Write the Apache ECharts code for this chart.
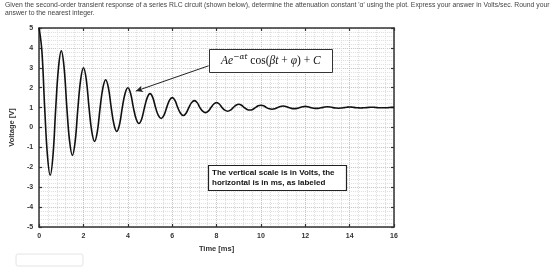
<!DOCTYPE html>
<html>
<head>
<meta charset="utf-8">
<script src="https://cdn.jsdelivr.net/npm/echarts@6/dist/echarts.min.js"></script>
<style>
  html, body { margin: 0; padding: 0; background: #fff; }
  #main { width: 560px; height: 270px; }
</style>
</head>
<body>
<div id="main"></div>
<script>
// time in ms, every eighth of the 1 ms period
const timeMs = [];
for (let i = 0; i <= 128; i++) timeMs.push(i / 8);

// voltage (V)
const voltage = [
  5.0, 3.84, 1, -1.41,   -2.4, -1.41, 1, 3.02,
  3.85, 3.02, 1, -0.70,  -1.4, -0.70, 1, 2.42,
  3.0, 2.42, 1, -0.21,   -0.7, -0.21, 1, 1.99,
  2.4, 1.99, 1, 0.15,    -0.2, 0.15, 1, 1.71,
  2.0, 1.71, 1, 0.43,    0.2, 0.43, 1, 1.50,
  1.7, 1.50, 1, 0.61,    0.45, 0.61, 1, 1.36,
  1.5, 1.36, 1, 0.72,    0.6, 0.72, 1, 1.25,
  1.35, 1.25, 1, 0.82,   0.75, 0.82, 1, 1.18,
  1.25, 1.18, 1, 0.87,   0.82, 0.87, 1, 1.12,
  1.17, 1.12, 1, 0.91,   0.88, 0.91, 1, 1.09,
  1.12, 1.09, 1, 0.94,   0.92, 0.94, 1, 1.06,
  1.08, 1.06, 1, 0.96,   0.95, 0.96, 1, 1.04,
  1.06, 1.04, 1, 0.97,   0.96, 0.97, 1, 1.03,
  1.04, 1.03, 1, 0.98,   0.97, 0.98, 1, 1.02,
  1.03, 1.02, 1, 0.99,   0.98, 0.99, 1, 1.01,
  1.02, 1.01, 1, 0.99,   0.99, 0.99, 1, 1.01,
  1.01
];

const xTicks = [0, 2, 4, 6, 8, 10, 12, 14, 16];
const yTicks = [-5, -4, -3, -2, -1, 0, 1, 2, 3, 4, 5];

const questionText = 'Given the second-order transient response of a series RLC circuit (shown below), determine the attenuation constant \'α\' using the plot. Express your answer in Volts/sec. Round your\nanswer to the nearest integer.';

let chart = echarts.init(document.getElementById('main'));

const gridLine = { show: true, lineStyle: { color: '#c4c4c4', type: [1, 1], width: 1 } };
const minorLine = { show: true, lineStyle: { color: '#dedede', type: [1, 1], width: 1 } };
const labelStyle = { color: '#333', fontSize: 7, fontWeight: 'bold', fontFamily: 'Liberation Sans' };
const frameLine = { onZero: false, lineStyle: { color: '#333', width: 1.5 } };
const inTick = { show: true, inside: true, length: 3, lineStyle: { color: '#333', width: 1.2 } };

chart.setOption({
  animation: false,
  textStyle: { fontFamily: 'Liberation Sans' },
  grid: { left: 38, right: 166, top: 28, bottom: 43 },
  graphic: [
    {
      type: 'text', left: 5, top: 1,
      style: { text: questionText, fill: '#444', font: '6.8px "Liberation Sans"', lineHeight: 8 }
    },
    {
      type: 'rect', shape: { x: 16, y: 254, width: 67, height: 12, r: 2 },
      style: { fill: '#fff', stroke: '#e4e4e4', lineWidth: 1 }
    },
    {
      // note box
      type: 'rect', z: 100, shape: { x: 208.5, y: 165.5, width: 138, height: 25 },
      style: { fill: '#fff', stroke: '#222', lineWidth: 1.2 }
    },
    {
      type: 'text', z: 101, left: 212, top: 168,
      style: {
        text: 'The vertical scale is in Volts, the\nhorizontal is in ms, as labeled',
        fill: '#111', font: 'bold 8px "Liberation Sans"', lineHeight: 10
      }
    },
    {
      // formula box
      type: 'rect', z: 100, shape: { x: 209.5, y: 49.5, width: 123, height: 23 },
      style: { fill: '#fff', stroke: '#333', lineWidth: 1 }
    },
    {
      type: 'text', z: 101, left: 221, top: 53,
      style: {
        text: '{i|Ae}{s|−αt}{u| cos(}{i|βt}{u| + }{i|φ}{u|) + }{i|C}',
        rich: {
          i: { fontFamily: 'Liberation Serif', fontStyle: 'italic', fontSize: 11.5, fill: '#111', lineHeight: 14, verticalAlign: 'bottom' },
          u: { fontFamily: 'Liberation Serif', fontSize: 11.5, fill: '#111', lineHeight: 14, verticalAlign: 'bottom' },
          s: { fontFamily: 'DejaVu Serif', fontStyle: 'italic', fontSize: 7.5, fill: '#111', lineHeight: 9, verticalAlign: 'top' }
        }
      }
    }
  ],
  xAxis: [
    {
      type: 'value', min: 0, max: 16, interval: 2,
      name: 'Time [ms]', nameLocation: 'middle', nameGap: 14,
      nameTextStyle: { color: '#333', fontSize: 7.5, fontWeight: 'bold' },
      axisLine: frameLine,
      axisTick: inTick,
      axisLabel: Object.assign({ margin: 6, formatter: v => xTicks.includes(v) ? String(v) : '' }, labelStyle),
      splitLine: gridLine,
      minorTick: { show: false, splitNumber: 5 },
      minorSplitLine: minorLine
    },
    {
      type: 'value', position: 'top', min: 0, max: 16, interval: 2,
      axisLine: frameLine,
      axisTick: inTick,
      axisLabel: { show: false },
      splitLine: { show: false }
    }
  ],
  yAxis: [
    {
      type: 'value', min: -5, max: 5, interval: 1,
      name: 'Voltage [V]', nameLocation: 'middle', nameGap: 19,
      nameTextStyle: { color: '#333', fontSize: 7.5, fontWeight: 'bold' },
      axisLine: Object.assign({ show: true }, frameLine),
      axisTick: inTick,
      axisLabel: Object.assign({ margin: 6, formatter: v => yTicks.includes(v) ? String(v) : '' }, labelStyle),
      splitLine: gridLine,
      minorTick: { show: false, splitNumber: 5 },
      minorSplitLine: minorLine
    },
    {
      type: 'value', position: 'right', min: -5, max: 5, interval: 1,
      axisLine: Object.assign({ show: true }, frameLine),
      axisTick: inTick,
      axisLabel: { show: false },
      splitLine: { show: false }
    }
  ],
  series: [
    {
      name: 'v(t)',
      type: 'line',
      data: timeMs.map((t, i) => [t, voltage[i]]),
      smooth: 0.4,
      showSymbol: false,
      lineStyle: { color: '#111', width: 1.6 },
      markLine: {
        silent: true,
        symbol: ['none', 'arrow'],
        symbolSize: [5, 7],
        label: { show: false },
        lineStyle: { color: '#222', width: 1, type: 'solid' },
        data: [[{ coord: [7.64, 3.1] }, { coord: [4.36, 1.83] }]]
      }
    }
  ]
});
</script>
</body>
</html>
